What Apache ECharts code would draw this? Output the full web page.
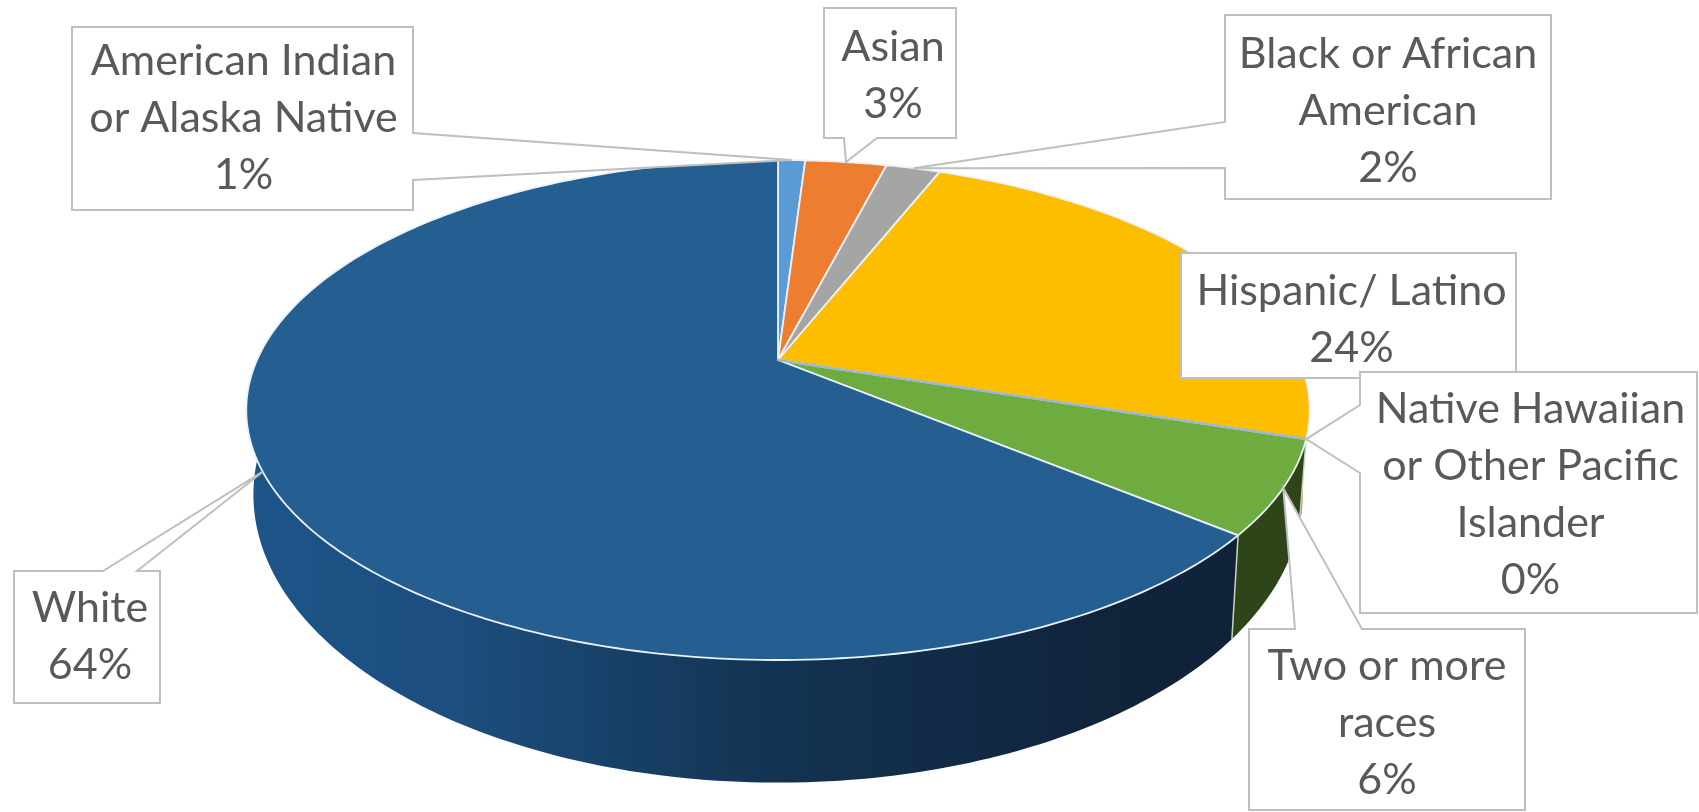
<!DOCTYPE html>
<html>
<head>
<meta charset="utf-8">
<title>Student enrollment by race and ethnicity</title>
<script src="https://cdn.jsdelivr.net/npm/echarts@6/dist/echarts.min.js"></script>
<style>
  html, body { margin: 0; padding: 0; background: #ffffff; }
  #chart { width: 1699px; height: 812px; }
</style>
</head>
<body>
<div id="chart"></div>
<script>
// Chart data: share of each group, in percent, clockwise from twelve o'clock.
const categories = [
  'American Indian\nor Alaska Native',
  'Asian',
  'Black or African\nAmerican',
  'Hispanic/ Latino',
  'Native Hawaiian\nor Other Pacific\nIslander',
  'Two or more\nraces',
  'White'
];
const percentages = [1, 3, 2, 24, 0, 6, 64];

// Slice colours for the top face and the side wall.
const topColors = ['#5B9BD5', '#ED7D31', '#A5A5A5', '#FDBE00', '#9DB7CF', '#6FAC3F', '#255E91'];
const wallColors = ['#2F5F8C', '#8A4A1C', '#606060', '#947000', '#264478', '#2D4518', null];
const blueWallStops = [
  { offset: 0, color: '#1D5488' },
  { offset: 0.2, color: '#1C4E7E' },
  { offset: 0.5, color: '#133352' },
  { offset: 0.8, color: '#10243C' },
  { offset: 1, color: '#0F2138' }
];

// Box and leader geometry of each callout: box edges, where the leader leaves
// the box, and a small nudge for the text inside it.
const calloutLayout = [
  { box: [72, 27, 413, 210], side: 'right', base: [133, 180], nudge: [1, 0] },
  { box: [824, 8, 956, 138], side: 'bottom', base: [844, 877], nudge: [3, 3] },
  { box: [1225, 15, 1551, 199], side: 'left', base: [122, 168], nudge: [0, 4] },
  { box: [1181, 253, 1516, 378], nudge: [3, 4] },
  { box: [1360, 372, 1697, 613], side: 'left', base: [405, 473], nudge: [2, 2] },
  { box: [1249, 629, 1525, 810], side: 'top', base: [1295, 1362], nudge: [0, 4] },
  { box: [14, 571, 160, 703], side: 'top', base: [103, 137], nudge: [3, 0] }
];

// Perspective projection of the pie's top and bottom discs onto the page.
const topDisc = { cx: 778, cy: 360, a: 521, b: 240, k: 0.2 };
const bottomDisc = { cx: 778, cy: 437, a: 514, b: 276.5, k: 0.2 };

function project(disc, deg) {
  const t = deg * Math.PI / 180;
  const u = Math.sin(t), v = Math.cos(t), w = 1 + disc.k * v;
  return [disc.cx + disc.a * u / w, disc.cy - disc.b * v / w];
}

function arc(disc, from, to) {
  const pts = [];
  const n = Math.max(1, Math.ceil(Math.abs(to - from)));
  for (let i = 0; i <= n; i++) pts.push(project(disc, from + (to - from) * i / n));
  return pts;
}

// Start and end angle of every slice, from the values themselves.
const total = percentages.reduce((s, v) => s + v, 0);
function sliceAngles(index) {
  let before = 0;
  for (let i = 0; i < index; i++) before += percentages[i];
  return [before / total * 360, (before + percentages[index]) / total * 360];
}

function renderWall(params, api) {
  const i = params.dataIndex;
  const [from, to] = sliceAngles(i);
  if (api.value(0) === 0) return { type: 'group', children: [] };
  const rim = arc(topDisc, from, to);
  const base = arc(bottomDisc, to, from);
  const fill = wallColors[i] || {
    type: 'linear', x: 250, y: 0, x2: 1300, y2: 0, global: true, colorStops: blueWallStops
  };
  return {
    type: 'group',
    children: [
      { type: 'polygon', shape: { points: rim.concat(base) }, style: { fill: fill } },
      {
        type: 'line',
        shape: {
          x1: project(topDisc, from)[0], y1: project(topDisc, from)[1],
          x2: project(bottomDisc, from)[0], y2: project(bottomDisc, from)[1]
        },
        style: { stroke: '#C9D3C4', lineWidth: 1.5 }
      }
    ]
  };
}

function renderTop(params, api) {
  const i = params.dataIndex;
  const [from, to] = sliceAngles(i);
  const pts = [[topDisc.cx, topDisc.cy]].concat(arc(topDisc, from, to));
  const isEmpty = api.value(0) === 0;
  return {
    type: 'polygon',
    z2: isEmpty ? 5 : 0,
    shape: { points: pts },
    style: {
      fill: topColors[i],
      stroke: isEmpty ? topColors[i] : '#EAF2F9',
      lineWidth: isEmpty ? 2.5 : 1.8,
      lineJoin: 'round'
    }
  };
}

function renderCallout(params, api) {
  const i = params.dataIndex;
  const layout = calloutLayout[i];
  const [l, t, r, b] = layout.box;
  const [from, to] = sliceAngles(i);
  const tip = project(topDisc, (from + to) / 2);
  let pts;
  if (layout.side === 'right') {
    pts = [[l, t], [r, t], [r, layout.base[0]], tip, [r, layout.base[1]], [r, b], [l, b]];
  } else if (layout.side === 'left') {
    pts = [[l, t], [r, t], [r, b], [l, b], [l, layout.base[1]], tip, [l, layout.base[0]]];
  } else if (layout.side === 'top') {
    pts = [[l, t], [layout.base[0], t], tip, [layout.base[1], t], [r, t], [r, b], [l, b]];
  } else if (layout.side === 'bottom') {
    pts = [[l, t], [r, t], [r, b], [layout.base[1], b], tip, [layout.base[0], b], [l, b]];
  } else {
    pts = [[l, t], [r, t], [r, b], [l, b]];
  }
  return {
    type: 'group',
    children: [
      {
        type: 'polygon',
        shape: { points: pts },
        style: { fill: '#FFFFFF', stroke: '#BFBFBF', lineWidth: 2 }
      },
      {
        type: 'text',
        x: (l + r) / 2 + layout.nudge[0],
        y: (t + b) / 2 + layout.nudge[1],
        style: {
          text: categories[i] + '\n' + api.value(0) + '%',
          x: 0, y: 0,
          align: 'center',
          verticalAlign: 'middle',
          fill: '#595959',
          font: '43px Lato',
          lineHeight: 57
        }
      }
    ]
  };
}

const seriesData = percentages.map(v => [v]);
const chart = echarts.init(document.getElementById('chart'), null, { renderer: 'canvas' });
chart.setOption({
  animation: false,
  backgroundColor: '#ffffff',
  series: [
    { type: 'custom', coordinateSystem: 'none', silent: true, z: 1, renderItem: renderWall, data: seriesData },
    { type: 'custom', coordinateSystem: 'none', silent: true, z: 2, renderItem: renderTop, data: seriesData },
    { type: 'custom', coordinateSystem: 'none', silent: true, z: 3, renderItem: renderCallout, data: seriesData }
  ]
});
</script>
</body>
</html>
